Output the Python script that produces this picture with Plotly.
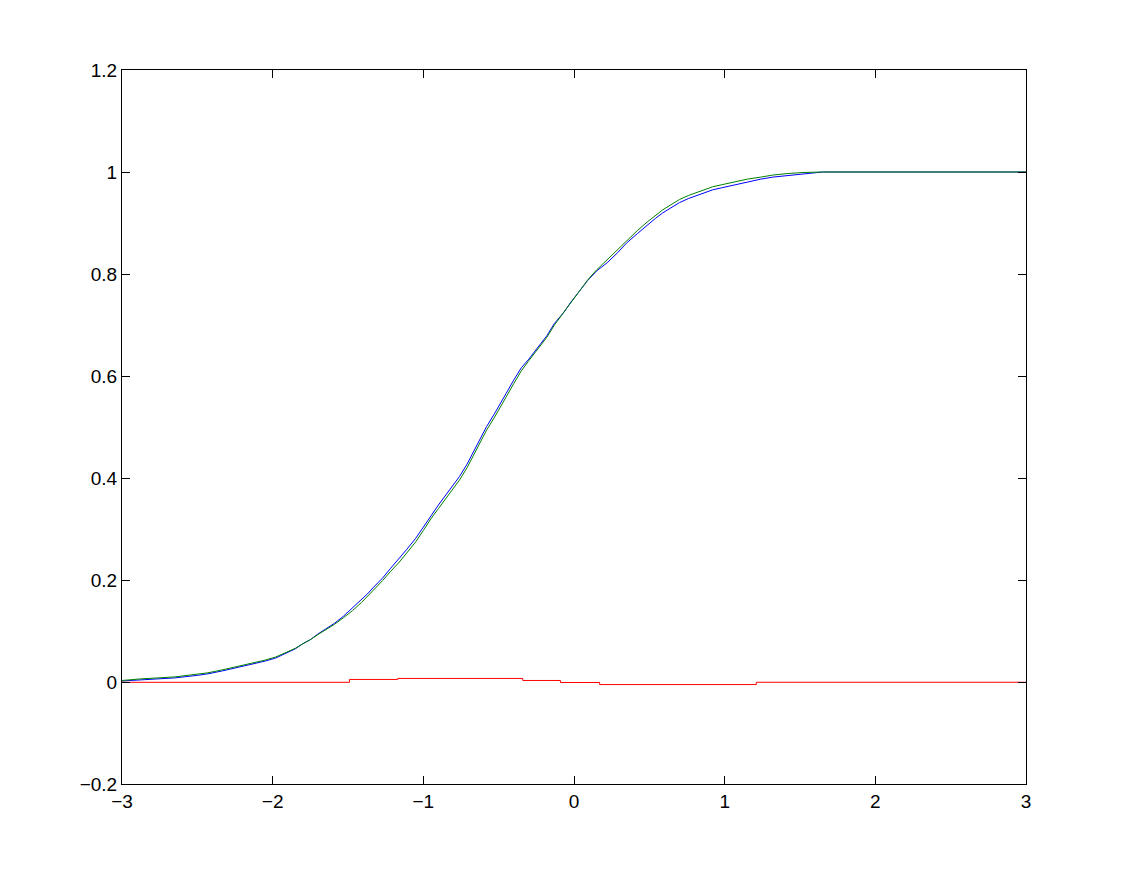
import plotly.graph_objects as go

# Shared x grid for the two CDF curves
cdf_x = [-3.00, -2.88, -2.65, -2.50, -2.43, -2.33, -2.25, -2.18, -2.12, -2.05, -1.98, -1.92,
         -1.85, -1.80, -1.75, -1.70, -1.65, -1.59, -1.53, -1.47, -1.41, -1.37, -1.33, -1.27,
         -1.22, -1.16, -1.11, -1.05, -1.00, -0.95, -0.90, -0.85, -0.80, -0.76, -0.71, -0.67,
         -0.62, -0.58, -0.53, -0.49, -0.45, -0.40, -0.35, -0.30, -0.24, -0.18, -0.13, -0.07,
         -0.02, 0.04, 0.09, 0.15, 0.22, 0.29, 0.35, 0.42, 0.49, 0.54, 0.59, 0.65, 0.70, 0.76,
         0.82, 0.87, 0.92, 0.98, 1.04, 1.10, 1.15, 1.24, 1.32, 1.42, 1.52, 1.65, 3.00]

# Green (reference CDF)
green_y = [0.003, 0.006, 0.010, 0.015, 0.018, 0.024, 0.029, 0.034, 0.038, 0.043, 0.049, 0.057,
           0.066, 0.075, 0.083, 0.093, 0.102, 0.113, 0.126, 0.140, 0.156, 0.168, 0.181, 0.199,
           0.216, 0.235, 0.253, 0.275, 0.297, 0.320, 0.340, 0.360, 0.380, 0.396, 0.420, 0.443,
           0.470, 0.494, 0.518, 0.540, 0.559, 0.585, 0.610, 0.630, 0.652, 0.676, 0.700, 0.724,
           0.746, 0.769, 0.788, 0.808, 0.828, 0.848, 0.867, 0.885, 0.903, 0.915, 0.926, 0.937,
           0.946, 0.954, 0.960, 0.966, 0.971, 0.975, 0.979, 0.983, 0.986, 0.990, 0.994, 0.997,
           0.999, 1.000, 1.000]

# Blue (empirical CDF)
blue_y = [0.002, 0.004, 0.008, 0.013, 0.016, 0.022, 0.027, 0.032, 0.036, 0.041, 0.047, 0.056,
          0.065, 0.075, 0.083, 0.094, 0.103, 0.115, 0.129, 0.145, 0.161, 0.173, 0.186, 0.204,
          0.222, 0.242, 0.260, 0.282, 0.304, 0.327, 0.347, 0.367, 0.387, 0.403, 0.427, 0.450,
          0.477, 0.501, 0.525, 0.547, 0.566, 0.592, 0.616, 0.633, 0.655, 0.679, 0.703, 0.724,
          0.745, 0.768, 0.787, 0.806, 0.822, 0.842, 0.861, 0.879, 0.897, 0.909, 0.920, 0.931,
          0.940, 0.948, 0.954, 0.960, 0.965, 0.969, 0.973, 0.977, 0.980, 0.986, 0.990, 0.993,
          0.996, 1.000, 1.000]

# Red (difference)
red_x = [-3.00, -1.49, -1.17, -0.34, -0.09, 0.17, 1.21, 3.00]
red_y = [-0.0006, 0.005, 0.007, 0.003, -0.001, -0.005, -0.0005, -0.0005]

x_ticks = [-3, -2, -1, 0, 1, 2, 3]
x_tick_labels = ["\u22123", "\u22122", "\u22121", "0", "1", "2", "3"]
y_ticks = [-0.2, 0, 0.2, 0.4, 0.6, 0.8, 1.0, 1.2]
y_tick_labels = ["\u22120.2", "0", "0.2", "0.4", "0.6", "0.8", "1", "1.2"]

fig = go.Figure()
fig.add_trace(go.Scatter(x=cdf_x, y=blue_y, mode="lines",
                         line=dict(color="#0000FF", width=1, shape="linear"), showlegend=False))
fig.add_trace(go.Scatter(x=cdf_x, y=green_y, mode="lines",
                         line=dict(color="#008000", width=1, shape="linear"), showlegend=False))
fig.add_trace(go.Scatter(x=red_x, y=red_y, mode="lines",
                         line=dict(color="#FF0000", width=1, shape="hv"), showlegend=False))

axis_common = dict(showgrid=False, zeroline=False, showline=True, linecolor="black", linewidth=1,
                   mirror="ticks", ticks="inside", ticklen=8, tickcolor="black", tickwidth=1,
                   tickfont=dict(family="Liberation Sans, Arial, sans-serif", size=19, color="black"))

fig.update_layout(
    width=1137, height=871,
    margin=dict(l=114, r=119, t=62, b=95),
    paper_bgcolor="white", plot_bgcolor="white",
    xaxis=dict(range=[-3, 3], tickvals=x_ticks, ticktext=x_tick_labels, **axis_common),
    yaxis=dict(range=[-0.2, 1.2], tickvals=y_ticks, ticktext=y_tick_labels, **axis_common),
)

fig.write_html("out.html")
